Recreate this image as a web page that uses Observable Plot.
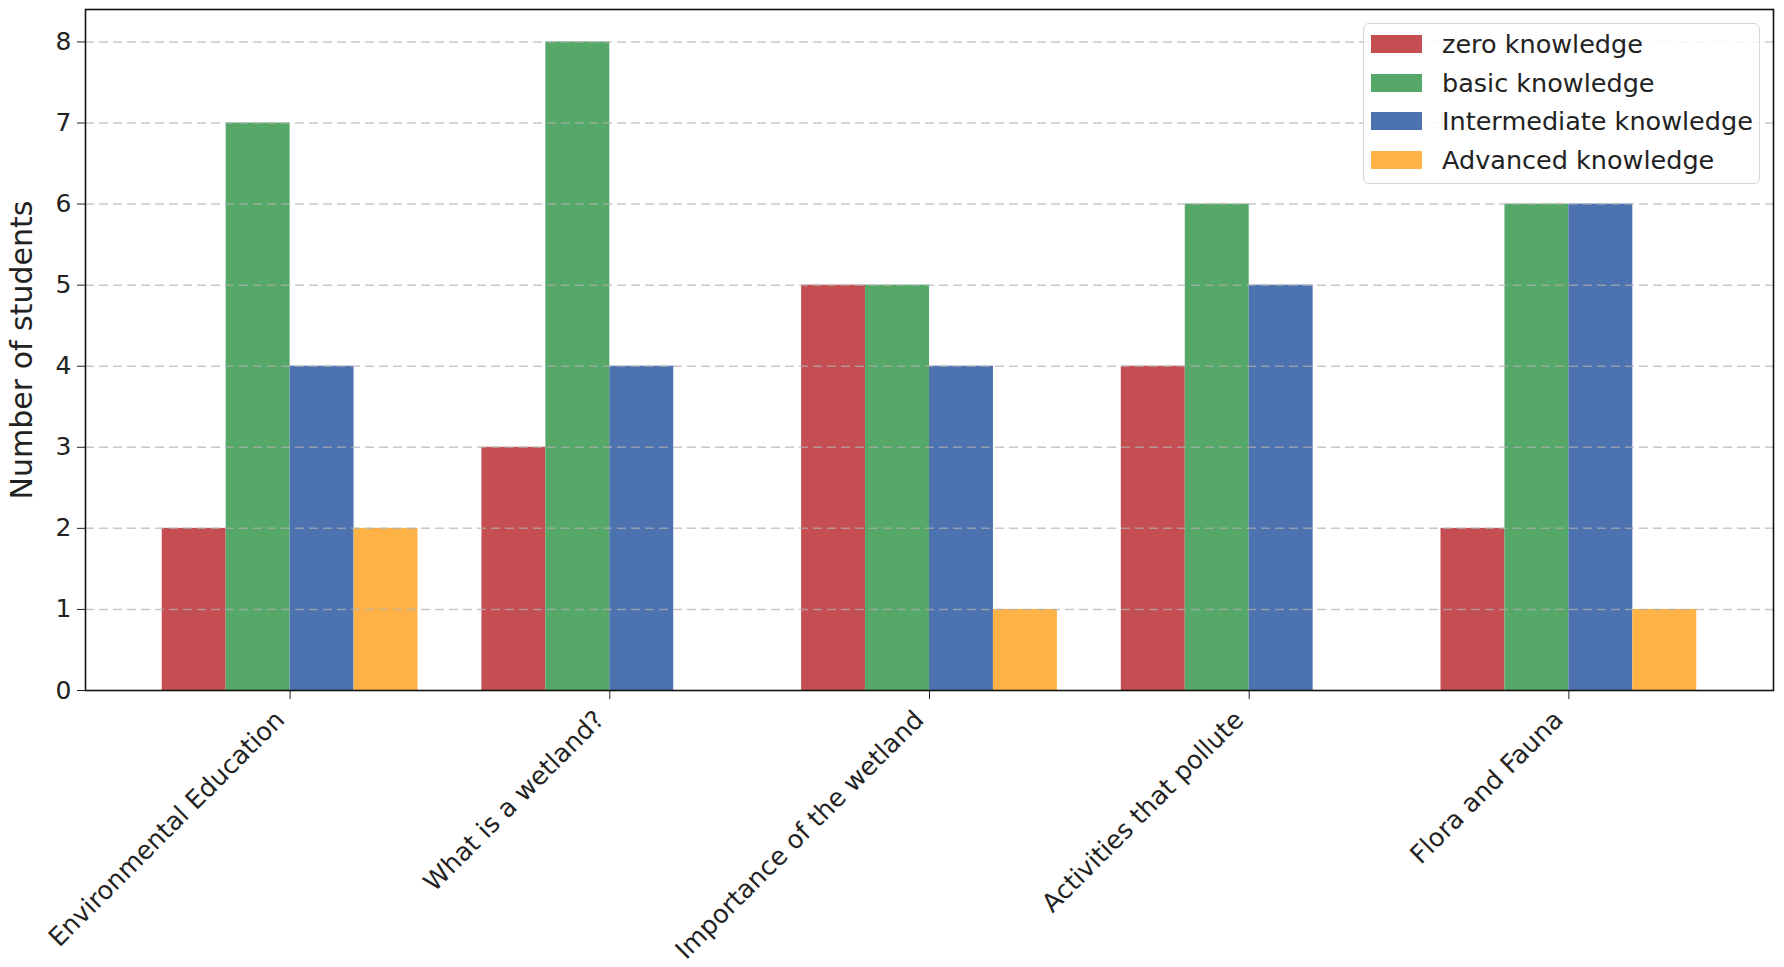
<!DOCTYPE html>
<html>
<head>
<meta charset="utf-8">
<script src="https://cdn.jsdelivr.net/npm/d3@7"></script>
<script src="https://cdn.jsdelivr.net/npm/@observablehq/plot@0.6"></script>
<style>
  html, body { margin: 0; padding: 0; background: #fff; }
  #wrap { position: relative; width: 1784px; height: 967px; font-family: "DejaVu Sans", sans-serif; }
  #legend {
    position: absolute; left: 1363px; top: 23px; width: 397px; height: 161px;
    box-sizing: border-box; border: 1.5px solid #d6d6d6; border-radius: 6px;
    background: rgba(255,255,255,0.85); padding: 1px 0 0 7px;
  }
  .row { display: flex; align-items: center; height: 38.5px; font-size: 25.5px; color: #222; }
  .sw { width: 51px; height: 18px; margin-right: 20px; }
</style>
</head>
<body>
<div id="wrap"><div id="legend"></div></div>
<script>
const categories = ["Environmental Education", "What is a wetland?", "Importance of the wetland", "Activities that pollute", "Flora and Fauna"];
const series = ["zero knowledge", "basic knowledge", "Intermediate knowledge", "Advanced knowledge"];
const colors = ["#C44E52", "#55A868", "#4C72B0", "#FFB347"];
const zeroKnowledge = [2, 3, 5, 4, 2];
const basicKnowledge = [7, 8, 5, 6, 6];
const intermediateKnowledge = [4, 4, 4, 5, 6];
const advancedKnowledge = [2, 0, 1, 0, 1];
const yTicks = [0, 1, 2, 3, 4, 5, 6, 7, 8];

const values = [zeroKnowledge, basicKnowledge, intermediateKnowledge, advancedKnowledge];
const barW = 0.2;
const rows = [];
values.forEach((vals, s) => {
  vals.forEach((v, i) => {
    const c = i + (s - 1.5) * barW;
    if (v > 0) rows.push({x1: c - barW / 2, x2: c + barW / 2, y: v, series: series[s]});
  });
});

const plot = Plot.plot({
  width: 1784,
  height: 967,
  marginLeft: 85,
  marginRight: 11,
  marginTop: 9,
  marginBottom: 277,
  style: {fontFamily: "DejaVu Sans, sans-serif", fontSize: "25px", color: "#222", background: "#fff"},
  x: {domain: [-0.64, 4.64]},
  y: {domain: [0, 8.4]},
  color: {domain: series, range: colors},
  marks: [
    Plot.rectY(rows, {x1: "x1", x2: "x2", y: "y", fill: "series", inset: 0}),
    Plot.ruleY(yTicks.slice(1), {stroke: "#b0b0b0", strokeOpacity: 0.7, strokeWidth: 1.5, strokeDasharray: "9,5"}),
    Plot.axisY({ticks: yTicks, tickSize: 8, tickPadding: 6, tickFormat: d => d, fontSize: 25,
      label: "Number of students", labelAnchor: "center", labelArrow: "none", labelOffset: 75}),
    Plot.axisX({ticks: d3.range(categories.length), tickSize: 9, tickPadding: 6, tickRotate: -45,
      tickFormat: i => categories[i], fontSize: 25.5, label: null, dx: -10, dy: 10}),
    Plot.axisX({ticks: d3.range(categories.length), tickSize: 9, tickFormat: () => "", label: null}),
    Plot.frame({stroke: "#111", strokeWidth: 1.6})
  ]
});
const wrap = document.getElementById("wrap");
wrap.insertBefore(plot, wrap.firstChild);

// make y axis label larger
plot.querySelectorAll("[aria-label='y-axis label'] text").forEach(t => t.setAttribute("font-size", "30"));
// hide tick lines of the shifted label axis (ticks are drawn by the second, unshifted axis)
const xTickGroups = plot.querySelectorAll("[aria-label='x-axis tick']");
if (xTickGroups.length > 0) xTickGroups[0].style.display = "none";

const legend = document.getElementById("legend");
series.forEach((s, i) => {
  const r = document.createElement("div");
  r.className = "row";
  const sw = document.createElement("div");
  sw.className = "sw";
  sw.style.background = colors[i];
  const t = document.createElement("span");
  t.textContent = s;
  r.appendChild(sw); r.appendChild(t);
  legend.appendChild(r);
});
</script>
</body>
</html>
